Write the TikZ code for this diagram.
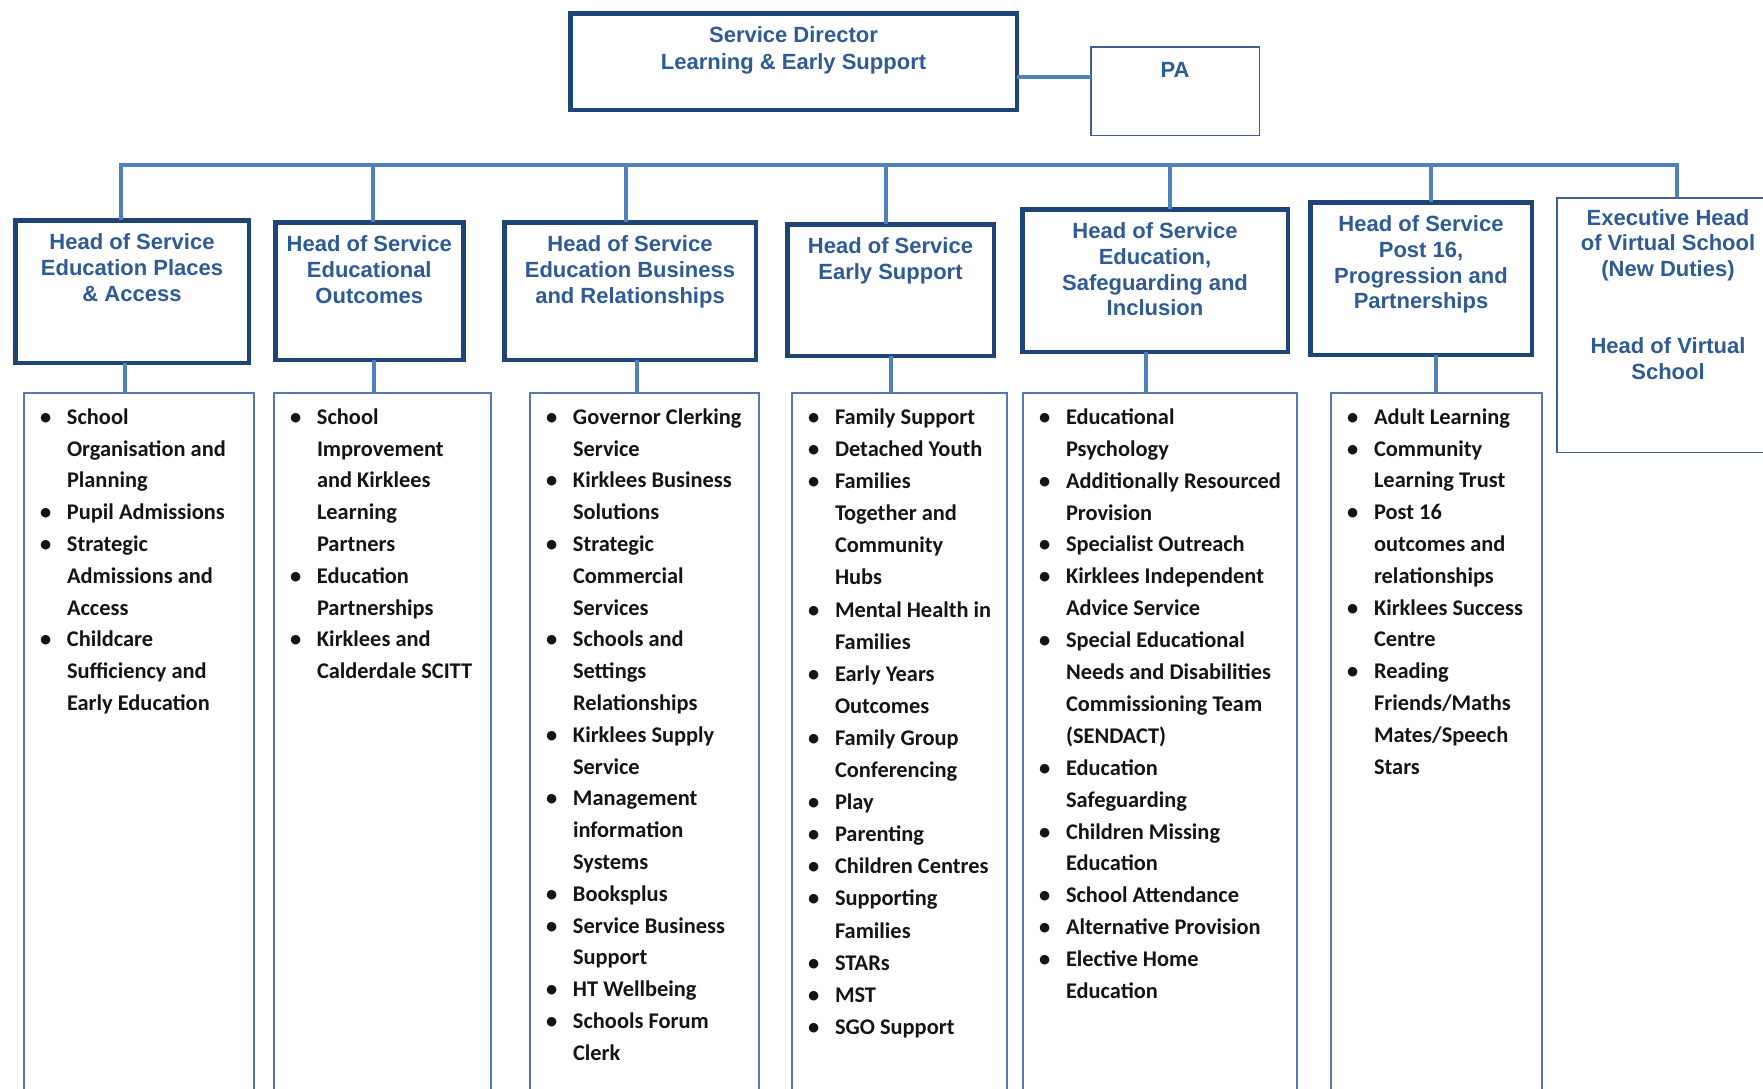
\documentclass[tikz,border=0pt]{standalone}
\usepackage{fontspec}
\setmainfont{Liberation Sans}
\newfontfamily\listfont{Carlito}
\usepackage{tikz}
\usetikzlibrary{positioning,calc}
\definecolor{navy}{HTML}{1F4477}
\definecolor{linkblue}{HTML}{4F81BD}
\definecolor{headblue}{HTML}{2E5B96}
\definecolor{listblue}{HTML}{5479B0}
\definecolor{listtext}{HTML}{141414}
\newcommand{\itm}{\strut\makebox[27pt][l]{\textbullet}}
\newcommand{\cnt}{\strut\hspace*{27pt}}

\begin{document}
\begin{tikzpicture}[x=1pt,y=-1pt,
 every node/.style={inner sep=0pt,outer sep=0pt},
 headbox/.style={draw=navy,line width=4.5pt,rectangle},
 plainbox/.style={draw=navy!85,line width=1.5pt,rectangle},
 listbox/.style={draw=listblue,line width=1.6pt,rectangle,anchor=north west,minimum height=720pt},
 headtxt/.style={anchor=north,align=center,text=headblue,font=\bfseries\fontsize{22}{25.7}\selectfont},
 listtxt/.style={anchor=north west,align=left,text=listtext,font=\listfont\bfseries\fontsize{22.4}{31.8}\selectfont},
 link/.style={draw=linkblue,line width=4.5pt}]
\useasboundingbox (0,0) rectangle (1763,1088);
\clip (0,0) rectangle (1763,1088);

% top level
\node[headbox,minimum width=446.5pt,minimum height=96.5pt] (dir) at (793.5,61.5) {};
\node[headtxt,font=\bfseries\fontsize{22}{27}\selectfont] (dirtxt) at ([yshift=-10.5pt]dir.north) {\strut Service Director\\Learning \& Early Support};
\node[plainbox,minimum width=168.5pt,minimum height=88.5pt] (pa) at (1175,91) {};
\node[headtxt] (patxt) at ([yshift=-13pt]pa.north) {\strut PA};
\draw[link] ([yshift=-15.5pt]dir.east) -- ([yshift=-15.5pt]dir.east -| pa.west);

% heads of service
\node[headbox,minimum width=233.5pt,minimum height=142.5pt] (h1) at (132,291.5) {};
\node[headbox,minimum width=188pt,minimum height=137.5pt] (h2) at (369.25,291) {};
\node[headbox,minimum width=251.5pt,minimum height=137.5pt] (h3) at (630,291) {};
\node[headbox,minimum width=206.5pt,minimum height=131.5pt] (h4) at (890.5,290) {};
\node[headbox,minimum width=265.5pt,minimum height=142.5pt] (h5) at (1155,280.5) {};
\node[headbox,minimum width=221.5pt,minimum height=152.5pt] (h6) at (1421,278.5) {};
\node[plainbox,minimum width=222.5pt,minimum height=254.5pt] (h7) at (1668,325) {};

\node[headtxt] (h1txt) at ([yshift=-11.5pt]h1.north) {\strut Head of Service\\Education Places\\\& Access};
\node[headtxt] (h2txt) at ([yshift=-11.5pt]h2.north) {\strut Head of Service\\Educational\\Outcomes};
\node[headtxt] (h3txt) at ([yshift=-11.5pt]h3.north) {\strut Head of Service\\Education Business\\and Relationships};
\node[headtxt] (h4txt) at ([yshift=-11.5pt]h4.north) {\strut Head of Service\\Early Support};
\node[headtxt] (h5txt) at ([yshift=-11.5pt]h5.north) {\strut Head of Service\\Education,\\Safeguarding and\\Inclusion};
\node[headtxt] (h6txt) at ([yshift=-11.5pt]h6.north) {\strut Head of Service\\Post 16,\\Progression and\\Partnerships};
\node[headtxt] (h7txt) at ([yshift=-9.5pt]h7.north) {\strut Executive Head\\of Virtual School\\(New Duties)\\[51.4pt]Head of Virtual\\School};

% bus
\coordinate (b1) at (121,165);
\coordinate (b2) at (373,165);
\coordinate (b3) at (626,165);
\coordinate (b4) at (886,165);
\coordinate (b5) at (1170,165);
\coordinate (b6) at (1431,165);
\coordinate (b7) at (1677,165);
\draw[link] (b1 |- h1.north) -- (b1) -- (b7) -- (b7 |- h7.north);
\draw[link] (b2) -- (b2 |- h2.north);
\draw[link] (b3) -- (b3 |- h3.north);
\draw[link] (b4) -- (b4 |- h4.north);
\draw[link] (b5) -- (b5 |- h5.north);
\draw[link] (b6) -- (b6 |- h6.north);

% lists
\node[listbox,minimum width=230pt] (l1) at (24,393) {};
\node[listbox,minimum width=217pt] (l2) at (274,393) {};
\node[listbox,minimum width=229pt] (l3) at (530,393) {};
\node[listbox,minimum width=215pt] (l4) at (792,393) {};
\node[listbox,minimum width=274pt] (l5) at (1023,393) {};
\node[listbox,minimum width=211pt] (l6) at (1331,393) {};

\draw[link] ([xshift=-7pt]h1.south) -- ([xshift=-7pt]h1.south |- l1.north);
\draw[link] ([xshift=4.75pt]h2.south) -- ([xshift=4.75pt]h2.south |- l2.north);
\draw[link] ([xshift=7pt]h3.south) -- ([xshift=7pt]h3.south |- l3.north);
\draw[link] ([xshift=0.5pt]h4.south) -- ([xshift=0.5pt]h4.south |- l4.north);
\draw[link] ([xshift=-9pt]h5.south) -- ([xshift=-9pt]h5.south |- l5.north);
\draw[link] ([xshift=15pt]h6.south) -- ([xshift=15pt]h6.south |- l6.north);

\node[listtxt] (l1txt) at ([xshift=16pt,yshift=-9pt]l1.north west) {%
\itm School\\\cnt Organisation and\\\cnt Planning\\
\itm Pupil Admissions\\
\itm Strategic\\\cnt Admissions and\\\cnt Access\\
\itm Childcare\\\cnt Sufficiency and\\\cnt Early Education};
\node[listtxt] (l2txt) at ([xshift=16pt,yshift=-9pt]l2.north west) {%
\itm School\\\cnt Improvement\\\cnt and Kirklees\\\cnt Learning\\\cnt Partners\\
\itm Education\\\cnt Partnerships\\
\itm Kirklees and\\\cnt Calderdale SCITT};
\node[listtxt] (l3txt) at ([xshift=16pt,yshift=-9pt]l3.north west) {%
\itm Governor Clerking\\\cnt Service\\
\itm Kirklees Business\\\cnt Solutions\\
\itm Strategic\\\cnt Commercial\\\cnt Services\\
\itm Schools and\\\cnt Settings\\\cnt Relationships\\
\itm Kirklees Supply\\\cnt Service\\
\itm Management\\\cnt information\\\cnt Systems\\
\itm Booksplus\\
\itm Service Business\\\cnt Support\\
\itm HT Wellbeing\\
\itm Schools Forum\\\cnt Clerk};
\node[listtxt,font=\listfont\bfseries\fontsize{22.4}{32.1}\selectfont] (l4txt) at ([xshift=16pt,yshift=-9pt]l4.north west) {%
\itm Family Support\\
\itm Detached Youth\\
\itm Families\\\cnt Together and\\\cnt Community\\\cnt Hubs\\
\itm Mental Health in\\\cnt Families\\
\itm Early Years\\\cnt Outcomes\\
\itm Family Group\\\cnt Conferencing\\
\itm Play\\
\itm Parenting\\
\itm Children Centres\\
\itm Supporting\\\cnt Families\\
\itm STARs\\
\itm MST\\
\itm SGO Support};
\node[listtxt,font=\listfont\bfseries\fontsize{22.4}{31.9}\selectfont] (l5txt) at ([xshift=16pt,yshift=-9pt]l5.north west) {%
\itm Educational\\\cnt Psychology\\
\itm Additionally Resourced\\\cnt Provision\\
\itm Specialist Outreach\\
\itm Kirklees Independent\\\cnt Advice Service\\
\itm Special Educational\\\cnt Needs and Disabilities\\\cnt Commissioning Team\\\cnt (SENDACT)\\
\itm Education\\\cnt Safeguarding\\
\itm Children Missing\\\cnt Education\\
\itm School Attendance\\
\itm Alternative Provision\\
\itm Elective Home\\\cnt Education};
\node[listtxt] (l6txt) at ([xshift=16pt,yshift=-9pt]l6.north west) {%
\itm Adult Learning\\
\itm Community\\\cnt Learning Trust\\
\itm Post 16\\\cnt outcomes and\\\cnt relationships\\
\itm Kirklees Success\\\cnt Centre\\
\itm Reading\\\cnt Friends/Maths\\\cnt Mates/Speech\\\cnt Stars};
\end{tikzpicture}
\end{document}
